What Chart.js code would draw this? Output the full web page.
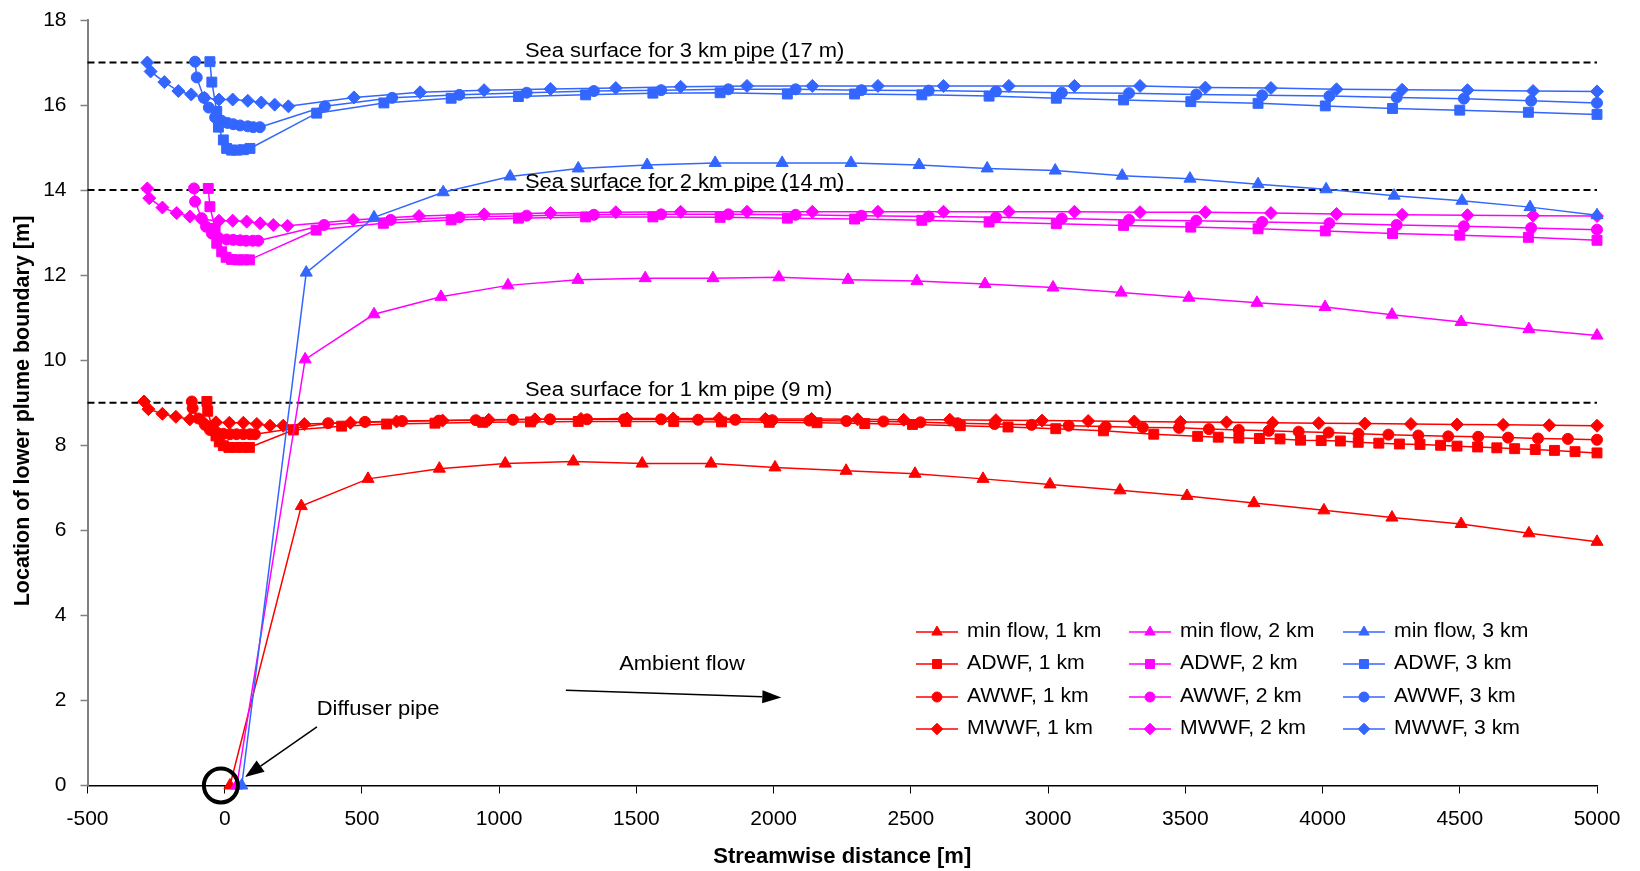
<!DOCTYPE html>
<html>
<head>
<meta charset="utf-8">
<script src="https://cdn.jsdelivr.net/npm/chart.js"></script>
<style>
html,body{margin:0;padding:0;background:#fff;}
#wrap{width:1640px;height:871px;position:relative;}
</style>
</head>
<body>
<div id="wrap"><canvas id="c" width="1640" height="871"></canvas></div>
<script>
// ---------------- DATA ----------------
const xTicks = [-500, 0, 500, 1000, 1500, 2000, 2500, 3000, 3500, 4000, 4500, 5000];
const yTicks = [0, 2, 4, 6, 8, 10, 12, 14, 16, 18];
const seaSurfaceLevels = [17, 14, 9];
const seaSurfaceLabels = ['Sea surface for 3 km pipe (17 m)', 'Sea surface for 2 km pipe (14 m)', 'Sea surface for 1 km pipe (9 m)'];

// min flow
const minFlow1kmX = [19, 279, 522, 782, 1022, 1270, 1521, 1772, 2005, 2264, 2515, 2763, 3007, 3262, 3506, 3750, 4005, 4253, 4505, 4752, 5000];
const minFlow1kmY = [0, 6.57, 7.21, 7.45, 7.57, 7.62, 7.57, 7.57, 7.48, 7.40, 7.33, 7.21, 7.08, 6.94, 6.81, 6.64, 6.47, 6.30, 6.15, 5.93, 5.73];
const minFlow2kmX = [44, 293, 544, 788, 1032, 1287, 1532, 1779, 2019, 2271, 2522, 2770, 3018, 3266, 3513, 3761, 4009, 4253, 4505, 4752, 5000];
const minFlow2kmY = [0, 10.02, 11.08, 11.49, 11.76, 11.89, 11.93, 11.93, 11.95, 11.89, 11.86, 11.79, 11.71, 11.59, 11.47, 11.35, 11.25, 11.07, 10.90, 10.73, 10.58];
const minFlow3kmX = [62, 297, 544, 796, 1040, 1288, 1539, 1787, 2031, 2282, 2530, 2778, 3026, 3270, 3517, 3765, 4013, 4261, 4508, 4756, 5000];
const minFlow3kmY = [0, 12.06, 13.36, 13.95, 14.32, 14.51, 14.59, 14.64, 14.64, 14.64, 14.59, 14.51, 14.46, 14.34, 14.27, 14.14, 14.02, 13.87, 13.75, 13.60, 13.41];

// ADWF
const adwf1kmX = [-65, -62, -45, -32, -20, -5, 15, 40, 65, 90, 250, 426, 590, 766, 940, 1114, 1288, 1462, 1636, 1810, 1984, 2158, 2332, 2506, 2680, 2854, 3028, 3202, 3385, 3545, 3620, 3695, 3770, 3845, 3920, 3995, 4065, 4130, 4205, 4280, 4355, 4430, 4490, 4565, 4635, 4700, 4775, 4845, 4920, 5000];
const adwf1kmY = [9.03, 8.80, 8.40, 8.22, 8.08, 7.99, 7.95, 7.95, 7.95, 7.95, 8.36, 8.45, 8.50, 8.52, 8.54, 8.55, 8.56, 8.56, 8.56, 8.55, 8.54, 8.53, 8.51, 8.49, 8.46, 8.43, 8.39, 8.34, 8.26, 8.21, 8.19, 8.17, 8.16, 8.15, 8.12, 8.11, 8.10, 8.07, 8.05, 8.03, 8.02, 8.00, 7.98, 7.96, 7.94, 7.92, 7.90, 7.88, 7.85, 7.82];
const adwf2kmX = [-60, -54, -35, -29, -11, 5, 25, 48, 68, 90, 333, 578, 825, 1070, 1315, 1560, 1805, 2050, 2295, 2540, 2785, 3030, 3275, 3520, 3765, 4010, 4255, 4500, 4750, 5000];
const adwf2kmY = [14.04, 13.61, 13.10, 12.75, 12.55, 12.42, 12.37, 12.36, 12.36, 12.36, 13.06, 13.22, 13.30, 13.34, 13.37, 13.37, 13.36, 13.34, 13.32, 13.29, 13.25, 13.21, 13.17, 13.13, 13.09, 13.04, 12.98, 12.94, 12.89, 12.82];
const adwf3kmX = [-54, -47, -29, -23, -5, 7, 25, 43, 68, 92, 335, 580, 825, 1070, 1315, 1560, 1805, 2050, 2295, 2540, 2785, 3030, 3275, 3520, 3765, 4010, 4255, 4500, 4750, 5000];
const adwf3kmY = [17.02, 16.54, 15.85, 15.48, 15.18, 14.98, 14.94, 14.94, 14.95, 14.98, 15.81, 16.05, 16.16, 16.20, 16.24, 16.28, 16.29, 16.26, 16.26, 16.24, 16.21, 16.16, 16.12, 16.08, 16.04, 15.98, 15.92, 15.88, 15.83, 15.78];

// AWWF
const awwf1kmX = [-120, -117, -96, -72, -54, -29, -5, 19, 43, 68, 92, 110, 377, 511, 646, 780, 915, 1050, 1185, 1320, 1455, 1590, 1725, 1860, 1995, 2130, 2265, 2400, 2535, 2670, 2805, 2940, 3075, 3210, 3345, 3477, 3586, 3695, 3804, 3913, 4022, 4131, 4240, 4349, 4458, 4567, 4676, 4785, 4894, 5000];
const awwf1kmY = [9.03, 8.87, 8.63, 8.48, 8.36, 8.30, 8.27, 8.26, 8.26, 8.26, 8.26, 8.26, 8.52, 8.55, 8.57, 8.58, 8.59, 8.60, 8.61, 8.61, 8.61, 8.61, 8.60, 8.60, 8.59, 8.58, 8.57, 8.56, 8.54, 8.52, 8.50, 8.48, 8.46, 8.44, 8.42, 8.41, 8.38, 8.36, 8.34, 8.32, 8.30, 8.27, 8.25, 8.23, 8.21, 8.20, 8.18, 8.16, 8.15, 8.13];
const awwf2kmX = [-112, -108, -84, -68, -47, -23, 7, 31, 56, 78, 102, 122, 362, 605, 855, 1100, 1345, 1590, 1835, 2080, 2320, 2565, 2810, 3050, 3295, 3540, 3780, 4025, 4270, 4515, 4760, 5000];
const awwf2kmY = [14.04, 13.73, 13.34, 13.14, 12.98, 12.88, 12.84, 12.83, 12.82, 12.81, 12.81, 12.81, 13.18, 13.30, 13.36, 13.40, 13.42, 13.43, 13.43, 13.42, 13.40, 13.38, 13.36, 13.33, 13.30, 13.28, 13.25, 13.22, 13.18, 13.15, 13.11, 13.07];
const awwf3kmX = [-108, -102, -76, -58, -35, -11, 10, 31, 56, 84, 104, 128, 365, 610, 855, 1100, 1345, 1590, 1835, 2080, 2320, 2565, 2810, 3050, 3295, 3540, 3780, 4025, 4270, 4515, 4760, 5000];
const awwf3kmY = [17.02, 16.65, 16.17, 15.94, 15.71, 15.63, 15.58, 15.55, 15.52, 15.50, 15.48, 15.48, 15.97, 16.17, 16.24, 16.29, 16.33, 16.35, 16.37, 16.37, 16.35, 16.34, 16.32, 16.29, 16.28, 16.25, 16.23, 16.21, 16.18, 16.15, 16.10, 16.05];

// MWWF
const mwwf1kmX = [-294, -278, -227, -178, -127, -84, -32, 17, 68, 117, 165, 213, 290, 458, 626, 794, 962, 1130, 1298, 1466, 1634, 1802, 1970, 2138, 2306, 2474, 2642, 2810, 2978, 3146, 3314, 3482, 3650, 3818, 3986, 4154, 4322, 4490, 4658, 4826, 5000];
const mwwf1kmY = [9.03, 8.85, 8.74, 8.67, 8.61, 8.58, 8.54, 8.53, 8.53, 8.50, 8.46, 8.46, 8.50, 8.53, 8.56, 8.58, 8.60, 8.61, 8.62, 8.63, 8.63, 8.63, 8.62, 8.62, 8.61, 8.60, 8.60, 8.59, 8.58, 8.57, 8.56, 8.55, 8.54, 8.53, 8.52, 8.51, 8.50, 8.49, 8.48, 8.47, 8.46];
const mwwf2kmX = [-282, -275, -227, -175, -127, -84, -21, 29, 80, 129, 177, 229, 468, 708, 945, 1187, 1425, 1661, 1903, 2141, 2380, 2619, 2857, 3096, 3335, 3573, 3812, 4051, 4290, 4528, 4767, 5000];
const mwwf2kmY = [14.04, 13.81, 13.59, 13.46, 13.38, 13.31, 13.28, 13.28, 13.26, 13.22, 13.18, 13.16, 13.30, 13.39, 13.43, 13.46, 13.48, 13.49, 13.49, 13.49, 13.49, 13.49, 13.49, 13.49, 13.48, 13.48, 13.46, 13.44, 13.42, 13.41, 13.40, 13.39];
const mwwf3kmX = [-282, -270, -220, -169, -122, -74, -21, 29, 84, 133, 182, 232, 471, 712, 945, 1187, 1425, 1661, 1903, 2141, 2380, 2619, 2857, 3096, 3335, 3573, 3812, 4051, 4290, 4528, 4767, 5000];
const mwwf3kmY = [17.00, 16.79, 16.54, 16.33, 16.25, 16.17, 16.13, 16.13, 16.10, 16.06, 16.01, 15.97, 16.18, 16.30, 16.35, 16.38, 16.40, 16.43, 16.45, 16.45, 16.45, 16.45, 16.45, 16.45, 16.45, 16.41, 16.40, 16.37, 16.36, 16.35, 16.33, 16.32];

// ---------------- STYLE / LAYOUT ----------------
const FONT = '"Liberation Sans", Arial, Helvetica, sans-serif';
const C_RED = '#FF0000', C_MAG = '#FF00FF', C_BLUE = '#3366FF';
const markerRadius = { triangle: 7, rect: 7, circle: 5.5, rectRot: 6.5 };
const legendMarkerRadius = { triangle: 6, rect: 6.3, circle: 5, rectRot: 5.8 };
const yTitleText = 'Location of lower plume boundary [m]';

const seriesDefs = [
  { label: 'min flow, 1 km', xs: minFlow1kmX, ys: minFlow1kmY, color: C_RED, style: 'triangle', order: 3, row: 0, col: 0 },
  { label: 'ADWF, 1 km', xs: adwf1kmX, ys: adwf1kmY, color: C_RED, style: 'rect', order: 3, row: 1, col: 0 },
  { label: 'AWWF, 1 km', xs: awwf1kmX, ys: awwf1kmY, color: C_RED, style: 'circle', order: 3, row: 2, col: 0 },
  { label: 'MWWF, 1 km', xs: mwwf1kmX, ys: mwwf1kmY, color: C_RED, style: 'rectRot', order: 3, row: 3, col: 0 },
  { label: 'min flow, 2 km', xs: minFlow2kmX, ys: minFlow2kmY, color: C_MAG, style: 'triangle', order: 2, row: 0, col: 1 },
  { label: 'ADWF, 2 km', xs: adwf2kmX, ys: adwf2kmY, color: C_MAG, style: 'rect', order: 2, row: 1, col: 1 },
  { label: 'AWWF, 2 km', xs: awwf2kmX, ys: awwf2kmY, color: C_MAG, style: 'circle', order: 2, row: 2, col: 1 },
  { label: 'MWWF, 2 km', xs: mwwf2kmX, ys: mwwf2kmY, color: C_MAG, style: 'rectRot', order: 2, row: 3, col: 1 },
  { label: 'min flow, 3 km', xs: minFlow3kmX, ys: minFlow3kmY, color: C_BLUE, style: 'triangle', order: 1, row: 0, col: 2 },
  { label: 'ADWF, 3 km', xs: adwf3kmX, ys: adwf3kmY, color: C_BLUE, style: 'rect', order: 1, row: 1, col: 2 },
  { label: 'AWWF, 3 km', xs: awwf3kmX, ys: awwf3kmY, color: C_BLUE, style: 'circle', order: 1, row: 2, col: 2 },
  { label: 'MWWF, 3 km', xs: mwwf3kmX, ys: mwwf3kmY, color: C_BLUE, style: 'rectRot', order: 1, row: 3, col: 2 }
];

const pts = (xs, ys) => xs.map((x, i) => ({ x: x, y: ys[i] }));

const datasets = seriesDefs.map(d => ({
  label: d.label,
  data: pts(d.xs, d.ys),
  showLine: true,
  tension: 0,
  borderColor: d.color,
  backgroundColor: d.color,
  borderWidth: 1.5,
  pointStyle: d.style,
  pointRadius: markerRadius[d.style],
  pointHoverRadius: markerRadius[d.style],
  pointBackgroundColor: d.color,
  pointBorderColor: d.color,
  pointBorderWidth: 1,
  order: d.order,
  clip: false
}));

seaSurfaceLevels.forEach(v => {
  datasets.push({
    label: 'sea ' + v,
    data: [{ x: xTicks[0], y: v }, { x: xTicks[xTicks.length - 1], y: v }],
    showLine: true,
    borderColor: '#000',
    borderWidth: 2,
    borderDash: [7, 4],
    pointRadius: 0,
    order: 5,
    clip: false
  });
});

// annotation anchors in data units
const seaLabelX = 1094;
const seaLabelBaselineY = [17.12, 14.04, 9.17];
const ambientText = { text: 'Ambient flow', x: 1666, y: 2.71 };
const ambientArrow = { x0: 1243, y0: 2.24, x1: 2028, y1: 2.07 };
const diffuserText = { text: 'Diffuser pipe', x: 335, y: 1.65 };
const diffuserArrow = { x0: 336, y0: 1.38, x1: 74, y1: 0.2 };
const diffuserRing = { x: -14, y: 0 };

function stretchText(ctx, text, px, py, align, sx) {
  ctx.save();
  ctx.translate(px, py);
  ctx.scale(sx, 1);
  ctx.textAlign = align;
  ctx.fillText(text, 0, 0);
  ctx.restore();
}

function arrow(ctx, x0, y0, x1, y1, headLen, headHalf, lw) {
  const ang = Math.atan2(y1 - y0, x1 - x0);
  const bx = x1 - Math.cos(ang) * headLen, by = y1 - Math.sin(ang) * headLen;
  ctx.lineWidth = lw;
  ctx.beginPath();
  ctx.moveTo(x0, y0);
  ctx.lineTo(bx, by);
  ctx.stroke();
  ctx.beginPath();
  ctx.moveTo(x1, y1);
  ctx.lineTo(bx + Math.sin(ang) * headHalf, by - Math.cos(ang) * headHalf);
  ctx.lineTo(bx - Math.sin(ang) * headHalf, by + Math.cos(ang) * headHalf);
  ctx.closePath();
  ctx.fill();
}

function drawMarker(ctx, style, r, x, y) {
  if (Chart.helpers && Chart.helpers.drawPoint) {
    Chart.helpers.drawPoint(ctx, { pointStyle: style, rotation: 0, radius: r, borderWidth: 1 }, x, y);
    return;
  }
  ctx.beginPath();
  if (style === 'circle') ctx.arc(x, y, r, 0, Math.PI * 2);
  else if (style === 'rect') { const s = r * Math.SQRT1_2; ctx.rect(x - s, y - s, 2 * s, 2 * s); }
  else if (style === 'rectRot') { ctx.moveTo(x - r, y); ctx.lineTo(x, y - r); ctx.lineTo(x + r, y); ctx.lineTo(x, y + r); ctx.closePath(); }
  else { ctx.moveTo(x, y - r); ctx.lineTo(x + r * 0.866, y + r / 2); ctx.lineTo(x - r * 0.866, y + r / 2); ctx.closePath(); }
  ctx.fill(); ctx.stroke();
}

const annotPlugin = {
  id: 'annot',
  afterDatasetsDraw(chart) {
    const { ctx } = chart;
    const sx = chart.scales.x, sy = chart.scales.y;
    ctx.save();
    ctx.fillStyle = '#000';
    ctx.strokeStyle = '#000';
    ctx.font = '20.5px ' + FONT;
    ctx.textBaseline = 'alphabetic';
    seaSurfaceLabels.forEach((t, i) => {
      stretchText(ctx, t, sx.getPixelForValue(seaLabelX), sy.getPixelForValue(seaLabelBaselineY[i]), 'left', 1.07);
    });
    stretchText(ctx, ambientText.text, sx.getPixelForValue(ambientText.x), sy.getPixelForValue(ambientText.y), 'center', 1.07);
    stretchText(ctx, diffuserText.text, sx.getPixelForValue(diffuserText.x), sy.getPixelForValue(diffuserText.y), 'left', 1.07);
    arrow(ctx, sx.getPixelForValue(ambientArrow.x0), sy.getPixelForValue(ambientArrow.y0),
      sx.getPixelForValue(ambientArrow.x1), sy.getPixelForValue(ambientArrow.y1), 19, 6.5, 1.5);
    arrow(ctx, sx.getPixelForValue(diffuserArrow.x0), sy.getPixelForValue(diffuserArrow.y0),
      sx.getPixelForValue(diffuserArrow.x1), sy.getPixelForValue(diffuserArrow.y1), 19, 7, 1.5);
    // ring around the diffuser
    ctx.lineWidth = 4;
    ctx.beginPath();
    ctx.ellipse(sx.getPixelForValue(diffuserRing.x), sy.getPixelForValue(diffuserRing.y), 17, 17, 0, 0, Math.PI * 2);
    ctx.stroke();
    ctx.restore();
  },
  afterDraw(chart) {
    const { ctx } = chart;
    const colX = [916, 1129, 1343];
    const rowY = [632, 664, 697, 729];
    ctx.save();
    ctx.font = '20px ' + FONT;
    ctx.textBaseline = 'middle';
    seriesDefs.forEach(d => {
      const x = colX[d.col], y = rowY[d.row];
      ctx.strokeStyle = d.color;
      ctx.fillStyle = d.color;
      ctx.lineWidth = 1.5;
      ctx.beginPath();
      ctx.moveTo(x, y);
      ctx.lineTo(x + 42, y);
      ctx.stroke();
      ctx.lineWidth = 1;
      drawMarker(ctx, d.style, legendMarkerRadius[d.style], x + 21, y);
      ctx.fillStyle = '#000';
      stretchText(ctx, d.label, x + 51, y - 1, 'left', 1.06);
    });
    // y axis title
    ctx.save();
    ctx.fillStyle = '#000';
    ctx.font = 'bold 21.5px ' + FONT;
    ctx.textBaseline = 'middle';
    ctx.textAlign = 'center';
    ctx.translate(23, 411);
    ctx.rotate(-Math.PI / 2);
    ctx.fillText(yTitleText, 0, 0);
    ctx.restore();
    ctx.restore();
  }
};

Chart.defaults.font.family = FONT;
Chart.defaults.color = '#000';

new Chart(document.getElementById('c'), {
  type: 'scatter',
  data: { datasets: datasets },
  plugins: [annotPlugin],
  options: {
    responsive: false,
    animation: false,
    devicePixelRatio: 1,
    layout: { padding: { left: 0, right: 43, top: 20, bottom: 0 } },
    plugins: { legend: { display: false }, tooltip: { enabled: false } },
    events: [],
    scales: {
      x: {
        type: 'linear',
        min: xTicks[0],
        max: xTicks[xTicks.length - 1],
        afterBuildTicks: s => { s.ticks = xTicks.map(v => ({ value: v })); },
        afterFit: s => { s.height = 85.5; s.paddingLeft = 0; s.paddingRight = 0; },
        ticks: { color: '#000', font: { size: 21 }, padding: 13, maxRotation: 0, autoSkip: false, callback: v => String(v) },
        grid: { drawOnChartArea: false, drawTicks: true, tickLength: 8, tickColor: '#000', tickWidth: 1 },
        border: { display: true, color: '#000', width: 1.5 },
        title: { display: true, text: 'Streamwise distance [m]', color: '#000', font: { size: 22, weight: 'bold' }, padding: { top: 0, bottom: 1 } }
      },
      y: {
        type: 'linear',
        min: yTicks[0],
        max: yTicks[yTicks.length - 1],
        afterBuildTicks: s => { s.ticks = yTicks.map(v => ({ value: v })); },
        afterFit: s => { s.width = 87.5; s.paddingTop = 0; s.paddingBottom = 0; },
        ticks: { color: '#000', font: { size: 21 }, padding: 14, autoSkip: false, callback: v => String(v) },
        grid: { drawOnChartArea: false, drawTicks: true, tickLength: 7, tickColor: '#808080', tickWidth: 1.5 },
        border: { display: true, color: '#808080', width: 2 },
        title: { display: false }
      }
    }
  }
});
</script>
</body>
</html>
